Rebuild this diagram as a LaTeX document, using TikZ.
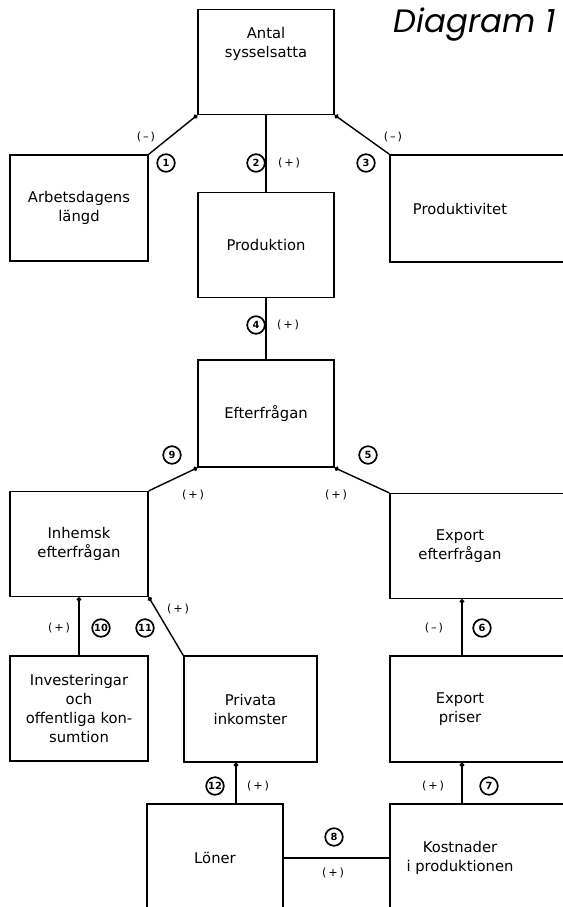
\documentclass[tikz,border=0pt]{standalone}
\usepackage{fontspec}
\setmainfont{DejaVu Sans}
\newfontfamily\titlefont{Poppins}
\usetikzlibrary{arrows.meta}
\tikzset{
  box/.style={draw, line width=1pt, align=center, font=\fontsize{10.5}{13.5}\selectfont,
    minimum width=3.4cm, minimum height=2.62cm},
  rbox/.style={box, minimum width=5cm},
  rtext/.style={align=center, font=\fontsize{10.5}{13.5}\selectfont, xshift=-0.75cm},
  num/.style={circle, draw, line width=1.2pt, minimum size=0.44cm, inner sep=0pt,
    font=\fontsize{7}{8}\selectfont\bfseries},
  sgn/.style={font=\fontsize{8}{9}\selectfont},
  eff/.style={-{Circle[length=3.2pt]}},
  link/.style={line width=1pt}
}
\begin{document}
\begin{tikzpicture}[x=0.025cm, y=-0.025cm]
	\useasboundingbox (0,0) rectangle (563,907);
	\node[anchor=base west, font=\titlefont\itshape\fontsize{23}{25}\selectfont] (title) at (389,33) {Diagram 1};
	% boxes
	\node[box, label={[align=center, font=\fontsize{10.5}{13.5}\selectfont, yshift=0.46cm]center:Antal\\sysselsatta}] (antal) at (266,62) {};
	\node[box, minimum width=3.45cm, minimum height=2.65cm] (arb) at (79,208) {Arbetsdagens\\längd};
	\node[box] (prod) at (266,245) {Produktion};
	\node[rbox, minimum height=2.68cm, label={[rtext]center:Produktivitet}] (prodv) at (490,208.5) {};
	\node[box, minimum height=2.68cm] (efter) at (266,413.5) {Efterfrågan};
	\node[box, minimum width=3.45cm] (inhem) at (79,544) {Inhemsk\\efterfrågan};
	\node[rbox, label={[rtext]center:Export\\efterfrågan}] (expe) at (490,546) {};
	\node[box, minimum width=3.45cm, minimum height=2.63cm] (invest) at (79,708.5) {Investeringar\\och\\offentliga kon-\\sumtion};
	\node[box, minimum width=3.33cm, minimum height=2.65cm] (priv) at (250.5,709) {Privata\\inkomster};
	\node[rbox, minimum height=2.65cm, label={[rtext]center:Export\\priser}] (expp) at (490,709) {};
	\node[box, minimum height=2.7cm] (loner) at (215,858) {Löner};
	\node[rbox, minimum height=2.7cm, label={[rtext]center:Kostnader\\i produktionen}] (kost) at (490,858) {};
	% connectors
	\coordinate (rc) at (462,0);
	\coordinate (pc) at (236,0);
	\draw[link, eff] (arb.north east) -- (antal.south west);
	\draw[link] (prod.north) -- (antal.south);
	\draw[link, eff] (prodv.north west) -- (antal.south east);
	\draw[link] (efter.north) -- (prod.south);
	\draw[link, eff] (inhem.north east) -- (efter.south west);
	\draw[link, eff] (expe.north west) -- (efter.south east);
	\draw[link, eff] (invest.north) -- (inhem.south);
	\draw[link, eff] (priv.north west) -- (inhem.south east);
	\draw[link, eff] (expp.north -| rc) -- (expe.south -| rc);
	\draw[link, eff] (kost.north -| rc) -- (expp.south -| rc);
	\draw[link, eff] (loner.north -| pc) -- (priv.south -| pc);
	\draw[link] (loner.east) -- (kost.west);
	% numbers and signs
	\node[num] (c1) at (166,163) {1};
	\node[sgn] (s1) at (146,137) {(\,--\,)};
	\node[num] (c2) at (256,163) {2};
	\node[sgn] (s2) at (289,163) {(\,+\,)};
	\node[num] (c3) at (366,163) {3};
	\node[sgn] (s3) at (393,137) {(\,--\,)};
	\node[num] (c4) at (256,325) {4};
	\node[sgn] (s4) at (288,325) {(\,+\,)};
	\node[num] (c9) at (172,455) {9};
	\node[sgn] (s9) at (193,495) {(\,+\,)};
	\node[num] (c5) at (368,455) {5};
	\node[sgn] (s5) at (336,495) {(\,+\,)};
	\node[sgn] (s10) at (59,628) {(\,+\,)};
	\node[num] (c10) at (101,628) {10};
	\node[num] (c11) at (145,628) {11};
	\node[sgn] (s11) at (178,609) {(\,+\,)};
	\node[sgn] (s6) at (434,628) {(\,--\,)};
	\node[num] (c6) at (482,628) {6};
	\node[num] (c12) at (215,786) {12};
	\node[sgn] (s12) at (258,786) {(\,+\,)};
	\node[sgn] (s7) at (433,786) {(\,+\,)};
	\node[num] (c7) at (489,786) {7};
	\node[num] (c8) at (334,837) {8};
	\node[sgn] (s8) at (333,873) {(\,+\,)};
\end{tikzpicture}
\end{document}
